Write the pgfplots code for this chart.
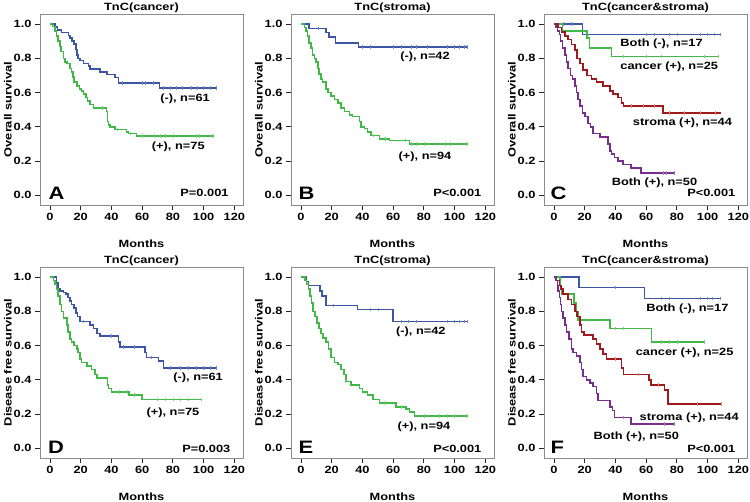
\documentclass[border=0pt]{standalone}
\usepackage{fontspec}
\setmainfont{Liberation Sans}[FakeStretch=1.22]
\usepackage{pgfplots}
\pgfplotsset{compat=1.18}
\definecolor{kmblue}{RGB}{60,85,165}
\definecolor{kmgreen}{RGB}{65,185,70}
\definecolor{kmred}{RGB}{160,25,30}
\definecolor{kmpurple}{RGB}{120,45,140}
\newcommand\lab{\bfseries\fontsize{10.5}{12}\selectfont}
\newcommand\plab{\bfseries\fontsize{18}{20}\selectfont}
\pgfplotsset{
 km/.style={
  scale only axis, width=203pt, height=191pt,
  xmin=-6.5, xmax=125.6, ymin=-0.057, ymax=1.059,
  xtick={0,20,40,60,80,100,120}, ytick={0,0.2,0.4,0.6,0.8,1.0},
  tick pos=left, tick align=outside, major tick length=5pt,
  axis line style={draw=black!45, line width=0.9pt},
  every tick/.style={black!85, line width=0.9pt},
  /pgf/number format/assume math mode=true,
  ticklabel style={font=\lab},
  yticklabel style={/pgf/number format/fixed, /pgf/number format/fixed zerofill, /pgf/number format/precision=1},
  xlabel={Months},
  xlabel style={at={(axis description cs:0.5,-0.225)}, anchor=base, font=\lab},
  ylabel style={at={(axis description cs:-0.158,0.5)}, anchor=center, font=\lab},
  every axis title shift=0pt,
  title style={at={(axis description cs:0.5,1.02)}, anchor=base, font=\lab},
  clip=false,
 },
 kml/.style={const plot, line width=1.6pt, no marks},
 cens/.style={only marks, mark=|, mark size=1.8pt, line width=0.6pt},
}
\begin{document}
\begin{tikzpicture}
\path[use as bounding box] (0,0) rectangle (750pt,502pt);
% ---------------- A
\begin{axis}[km, at={(40pt,297pt)}, anchor=south west, title={TnC(cancer)}, ylabel={Overall survival}]
\addplot[kml, kmblue] coordinates {(0,1)(3.3,0.984)(4.8,0.967)(7.6,0.951)(12,0.934)(13,0.918)(14.5,0.90)(15.6,0.885)(16.9,0.852)(17.5,0.82)(18.4,0.80)(19.5,0.787)(21.7,0.77)(25,0.754)(26,0.738)(32.6,0.721)(37,0.705)(42.3,0.689)(44.5,0.656)(71.2,0.627)(108.5,0.627)};
\addplot[cens, kmblue!70] coordinates {(47,0.656)(60,0.656)(62,0.656)(67,0.656)(74,0.627)(78,0.627)(82,0.627)(86,0.627)(92,0.627)(96,0.627)(100,0.627)(104,0.627)(108.5,0.627)};
\addplot[kml, kmgreen] coordinates {(0,1)(1.7,0.985)(3.3,0.96)(4.3,0.93)(5.4,0.90)(6.5,0.87)(7.2,0.84)(8.7,0.80)(9.8,0.78)(10.9,0.77)(13,0.74)(14.1,0.72)(14.8,0.69)(15.6,0.66)(17.4,0.64)(19.1,0.62)(20.6,0.61)(21.7,0.59)(23.4,0.57)(24.3,0.55)(26,0.53)(28.2,0.51)(36.9,0.49)(37.5,0.43)(38,0.41)(39,0.40)(42.3,0.385)(49.9,0.37)(51,0.36)(56.4,0.345)(106.3,0.345)};
\addplot[cens, kmgreen!70] coordinates {(34,0.51)(44,0.385)(52,0.36)(60,0.345)(68,0.345)(72,0.345)(75,0.345)(80,0.345)(95,0.345)(97,0.345)(106.3,0.345)};
\node[font=\lab] at (axis cs:87.9,0.564) {(-), n=61};
\node[font=\lab] at (axis cs:83.5,0.284) {(+), n=75};
\node[font=\plab, anchor=base west] at (axis description cs:0.025,0.031) {A};
\node[font=\lab, anchor=base east] at (axis description cs:0.946,0.045) {P=0.001};
\end{axis}
% ---------------- B
\begin{axis}[km, at={(291pt,297pt)}, anchor=south west, title={TnC(stroma)}, ylabel={Overall survival}]
\addplot[kml, kmblue] coordinates {(0,1)(5.4,0.975)(16.3,0.95)(18.4,0.925)(22.4,0.89)(37.3,0.865)(108.5,0.865)};
\addplot[cens, kmblue!70] coordinates {(11,0.975)(40,0.865)(45,0.865)(60,0.865)(65,0.865)(72,0.865)(75,0.865)(82,0.865)(95,0.865)(100,0.865)(103,0.865)(106,0.865)(108.5,0.865)};
\addplot[kml, kmgreen] coordinates {(0,1)(2.2,0.98)(3.3,0.96)(4.3,0.93)(5.4,0.89)(6.5,0.86)(7.6,0.82)(8.7,0.80)(9.8,0.78)(10.9,0.74)(11.9,0.71)(13,0.68)(14.1,0.66)(16.3,0.62)(17.4,0.60)(19.5,0.58)(21.7,0.56)(23.9,0.54)(26,0.51)(28.2,0.49)(31.5,0.47)(33.6,0.46)(38,0.43)(39,0.40)(41.2,0.39)(43.4,0.37)(45.6,0.35)(51,0.33)(57.5,0.32)(70.5,0.30)(108.5,0.30)};
\addplot[cens, kmgreen!70] coordinates {(47,0.35)(55,0.33)(68,0.32)(72,0.30)(75,0.30)(80,0.30)(94,0.30)(97,0.30)(108.5,0.30)};
\node[font=\lab] at (axis cs:80.7,0.81) {(-), n=42};
\node[font=\lab] at (axis cs:80.7,0.226) {(+), n=94};
\node[font=\plab, anchor=base west] at (axis description cs:0.02,0.031) {B};
\node[font=\lab, anchor=base east] at (axis description cs:0.955,0.047) {P<0.001};
\end{axis}
% ---------------- C
\begin{axis}[km, at={(544pt,297pt)}, anchor=south west, title={TnC(cancer\&stroma)}, ylabel={Overall survival}]
\addplot[kml, kmblue] coordinates {(0,1)(18.6,0.94)(108.5,0.94)};
\addplot[cens, kmblue!70] coordinates {(6,1)(11,1)(60,0.94)(65,0.94)(75,0.94)(80,0.94)(95,0.94)(100,0.94)(104,0.94)(108.5,0.94)};
\addplot[kml, kmgreen] coordinates {(0,1)(5.6,0.96)(21.6,0.92)(23,0.86)(37.3,0.81)(107,0.81)};
\addplot[cens, kmgreen!70] coordinates {(45,0.81)(60,0.81)(70,0.81)(98,0.81)(107,0.81)};
\addplot[kml, kmred] coordinates {(0,1)(2.8,0.98)(5,0.955)(7.1,0.93)(9.3,0.91)(11.4,0.88)(13.6,0.85)(15.1,0.80)(16.8,0.77)(19,0.73)(21.6,0.70)(24.4,0.68)(27.6,0.66)(31.9,0.64)(36.3,0.61)(38.4,0.59)(41.7,0.57)(43.8,0.54)(45.3,0.52)(70.8,0.48)(108.6,0.48)};
\addplot[cens, kmred!60!orange!60] coordinates {(50,0.52)(58,0.52)(65,0.52)(75,0.48)(85,0.48)(95,0.48)(105,0.48)};
\addplot[kml, kmpurple] coordinates {(0,1)(1.3,0.98)(2.2,0.96)(3.5,0.94)(4.3,0.90)(5.6,0.86)(7.1,0.82)(8.2,0.78)(9.3,0.74)(10.8,0.70)(12.1,0.68)(13.6,0.64)(14.7,0.60)(15.8,0.56)(16.8,0.52)(18.6,0.48)(20.1,0.46)(22.2,0.42)(23.7,0.40)(25.5,0.36)(29.8,0.34)(35.2,0.30)(36.3,0.26)(37.3,0.24)(39.5,0.22)(41.7,0.20)(44.9,0.18)(50.3,0.16)(56.8,0.13)(78.3,0.13)};
\addplot[cens, kmpurple!60] coordinates {(71,0.13)(73,0.13)(78.3,0.13)};
\node[font=\lab] at (axis cs:70,0.885) {Both (-), n=17};
\node[font=\lab] at (axis cs:75,0.752) {cancer (+), n=25};
\node[font=\lab] at (axis cs:83.6,0.424) {stroma (+), n=44};
\node[font=\lab] at (axis cs:65.4,0.074) {Both (+), n=50};
\node[font=\plab, anchor=base west] at (axis description cs:0.015,0.031) {C};
\node[font=\lab, anchor=base east] at (axis description cs:0.96,0.043) {P<0.001};
\end{axis}
% ---------------- D
\begin{axis}[km, at={(40pt,44pt)}, anchor=south west, title={TnC(cancer)}, ylabel={Disease free survival}]
\addplot[kml, kmblue] coordinates {(0,1)(4.3,0.965)(5.4,0.93)(6.5,0.92)(8.7,0.91)(10.4,0.90)(11.9,0.88)(13,0.86)(14.1,0.84)(15.6,0.82)(16.9,0.79)(17.8,0.77)(19.5,0.74)(26,0.72)(28.2,0.70)(30.4,0.67)(32.6,0.655)(44.5,0.62)(45.6,0.59)(61.8,0.56)(62.9,0.53)(70.5,0.51)(73.8,0.47)(108.5,0.47)};
\addplot[cens, kmblue!70] coordinates {(22,0.74)(40,0.655)(48,0.59)(55,0.59)(66,0.53)(78,0.47)(85,0.47)(90,0.47)(95,0.47)(100,0.47)(104,0.47)(108.5,0.47)};
\addplot[kml, kmgreen] coordinates {(0,1)(2.2,0.98)(3.3,0.96)(4.3,0.93)(5.4,0.89)(6.5,0.84)(7.6,0.80)(8.7,0.76)(10.9,0.72)(11.9,0.68)(13,0.64)(14.1,0.62)(15.6,0.60)(17.4,0.58)(18.4,0.56)(19.5,0.52)(20.6,0.50)(23.9,0.48)(27.1,0.46)(29.3,0.43)(30.4,0.41)(37.3,0.37)(38,0.35)(40.1,0.33)(51.6,0.31)(59.7,0.285)(98.7,0.285)};
\addplot[cens, kmgreen!70] coordinates {(45,0.33)(50,0.33)(55,0.31)(70,0.285)(75,0.285)(80,0.285)(85,0.285)(90,0.285)(98.7,0.285)};
\node[font=\lab] at (axis cs:96.4,0.413) {(-), n=61};
\node[font=\lab] at (axis cs:80,0.205) {(+), n=75};
\node[font=\plab, anchor=base west] at (axis description cs:0.022,0.026) {D};
\node[font=\lab, anchor=base east] at (axis description cs:0.955,0.028) {P=0.003};
\end{axis}
% ---------------- E
\begin{axis}[km, at={(291pt,44pt)}, anchor=south west, title={TnC(stroma)}, ylabel={Disease free survival}]
\addplot[kml, kmblue] coordinates {(0,1)(3.7,0.975)(5,0.95)(12.4,0.92)(13.7,0.89)(16.3,0.835)(36.9,0.81)(59.7,0.74)(108.5,0.74)};
\addplot[cens, kmblue!70] coordinates {(21,0.835)(45,0.81)(50,0.81)(65,0.74)(70,0.74)(75,0.74)(95,0.74)(100,0.74)(103,0.74)(106,0.74)(108.5,0.74)};
\addplot[kml, kmgreen] coordinates {(0,1)(2.8,0.98)(3.7,0.96)(5,0.93)(5.9,0.89)(6.9,0.85)(8,0.80)(9.3,0.77)(10.4,0.73)(11.9,0.70)(13,0.67)(14.5,0.645)(16.3,0.62)(17.8,0.58)(19.5,0.53)(21.7,0.50)(23.9,0.49)(26,0.46)(27.8,0.43)(29.3,0.39)(32.6,0.37)(38,0.35)(40.1,0.33)(43.4,0.31)(46.7,0.285)(51,0.265)(61.8,0.24)(68.4,0.23)(70.5,0.21)(73.8,0.19)(108.5,0.19)};
\addplot[cens, kmgreen!70] coordinates {(29,0.39)(55,0.265)(65,0.24)(80,0.19)(90,0.19)(95,0.19)(100,0.19)(108.5,0.19)};
\node[font=\lab] at (axis cs:78,0.68) {(-), n=42};
\node[font=\lab] at (axis cs:80,0.123) {(+), n=94};
\node[font=\plab, anchor=base west] at (axis description cs:0.02,0.026) {E};
\node[font=\lab, anchor=base east] at (axis description cs:0.955,0.028) {P<0.001};
\end{axis}
% ---------------- F
\begin{axis}[km, at={(544pt,44pt)}, anchor=south west, title={TnC(cancer\&stroma)}, ylabel={Disease free survival}]
\addplot[kml, kmblue] coordinates {(0,1)(16.2,0.94)(58.9,0.875)(108.5,0.875)};
\addplot[cens, kmblue!70] coordinates {(40,0.94)(70,0.875)(75,0.875)(95,0.875)(100,0.875)(103,0.875)(108.5,0.875)};
\addplot[kml, kmgreen] coordinates {(0,1)(3.9,0.95)(5,0.90)(13,0.85)(14.3,0.80)(15.8,0.75)(36.3,0.70)(63.5,0.62)(97.8,0.62)};
\addplot[cens, kmgreen!70] coordinates {(40,0.70)(45,0.70)(70,0.62)(75,0.62)(80,0.62)(97.8,0.62)};
\addplot[kml, kmred] coordinates {(0,1)(1.3,0.98)(3.5,0.95)(4.5,0.93)(6,0.90)(9.3,0.87)(11.4,0.84)(13.6,0.80)(15.1,0.77)(16.8,0.72)(17.9,0.68)(19.4,0.66)(25.5,0.64)(27.6,0.61)(29.8,0.58)(31.9,0.55)(34.1,0.52)(43.8,0.47)(45.3,0.43)(61.7,0.40)(63.2,0.37)(71.9,0.34)(74,0.26)(108.6,0.26)};
\addplot[cens, kmred!60!orange!60] coordinates {(40,0.52)(55,0.43)(68,0.37)(93,0.26)(108.6,0.26)};
\addplot[kml, kmpurple] coordinates {(0,1)(1.3,0.98)(2.2,0.95)(2.8,0.92)(3.5,0.88)(4.3,0.84)(5,0.80)(6,0.76)(7.1,0.72)(8.2,0.68)(9.9,0.64)(11.4,0.58)(12.5,0.56)(14.7,0.54)(16.8,0.50)(17.9,0.46)(19,0.42)(21.2,0.40)(23.3,0.38)(25.5,0.36)(27.6,0.32)(28.7,0.28)(36.3,0.24)(38,0.22)(39.5,0.18)(50.3,0.14)(78.3,0.14)};
\addplot[cens, kmpurple!60] coordinates {(45,0.18)(72,0.14)(78.3,0.14)};
\node[font=\lab] at (axis cs:86.8,0.814) {Both (-), n=17};
\node[font=\lab] at (axis cs:85,0.555) {cancer (+), n=25};
\node[font=\lab] at (axis cs:88,0.18) {stroma (+), n=44};
\node[font=\lab] at (axis cs:53.5,0.065) {Both (+), n=50};
\node[font=\plab, anchor=base west] at (axis description cs:0.015,0.026) {F};
\node[font=\lab, anchor=base east] at (axis description cs:0.96,0.028) {P<0.001};
\end{axis}
\end{tikzpicture}
\end{document}
